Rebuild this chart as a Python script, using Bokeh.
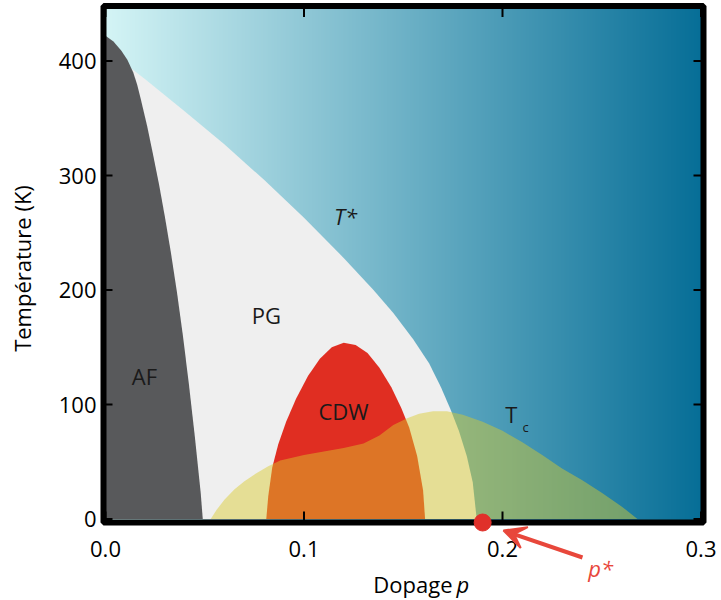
import numpy as np
from bokeh.plotting import figure
from bokeh.models import Label, Arrow, VeeHead, Range1d
from bokeh.core.properties import value
from bokeh.embed import file_html
from bokeh.resources import INLINE

# ---------------- data ----------------
# antiferromagnetic region boundary (doping, temperature K)
af_x = [0.0, 0.004, 0.008, 0.011, 0.014, 0.016, 0.018, 0.021, 0.024, 0.027, 0.030, 0.033, 0.036, 0.039, 0.042, 0.045, 0.048, 0.049, 0.0]
af_y = [422, 417, 409, 401, 390, 379, 365, 343, 318, 292, 263, 232, 198, 160, 118, 72, 22, 0, 0]
# pseudogap line T*
tstar_x = [0.0, 0.02, 0.04, 0.06, 0.08, 0.10, 0.12, 0.135, 0.145, 0.155, 0.163, 0.169, 0.174, 0.178, 0.182, 0.185, 0.187]
tstar_y = [411, 384, 356, 327, 296, 263, 228, 200, 180, 157, 136, 115, 95, 77, 55, 32, 0]
# charge density wave dome
cdw_x = [0.081, 0.082, 0.084, 0.087, 0.091, 0.096, 0.102, 0.108, 0.114, 0.120, 0.126, 0.132, 0.138, 0.144, 0.149, 0.153, 0.157, 0.160, 0.161]
cdw_y = [0, 20, 45, 65, 85, 105, 125, 140, 150, 154, 152, 145, 132, 115, 97, 80, 55, 25, 0]
# superconducting dome Tc
sc_x = [0.053, 0.056, 0.060, 0.065, 0.070, 0.076, 0.082, 0.088, 0.100, 0.110, 0.120, 0.130, 0.138, 0.145, 0.152, 0.158, 0.165, 0.172, 0.180, 0.190, 0.200, 0.210, 0.220, 0.230, 0.240, 0.250, 0.260, 0.268]
sc_y = [0, 8, 17, 26, 33, 40, 46, 51, 56, 59, 62, 66, 73, 82, 88, 92, 94, 94, 91, 85, 77, 67, 56, 44, 34, 23, 11, 0]
p_star = 0.19
x_ticks = [0.0, 0.1, 0.2, 0.3]
x_tick_labels = ["0.0", "0.1", "0.2", "0.3"]
y_ticks = [0, 100, 200, 300, 400]
y_tick_labels = ["0", "100", "200", "300", "400"]

# ---------------- layout / style ----------------
FONT = "Open Sans"
TXT = "#1a1a1a"
RED = "#e0302a"
ARROW_RED = "#e8473b"

W, H = 716, 598
SX, SY = 1985.0, 1.145      # pixels per unit of doping / per kelvin
X0PX, Y0PX = 105.0, 518.5   # canvas pixel of doping 0 / of 0 K


def dx(px):
    return (px - X0PX) / SX


def dy(py):
    return (Y0PX - py) / SY


p = figure(width=W, height=H, x_range=Range1d(dx(0), dx(W)), y_range=Range1d(dy(H), dy(0)),
           output_backend="svg", toolbar_location=None, min_border=0,
           x_axis_location=None, y_axis_location=None)
p.grid.visible = False
p.outline_line_color = None
p.background_fill_color = "white"
p.border_fill_color = "white"

# plot box
bl, br, bt, bb = dx(103), dx(703), dy(5.5), dy(522)

# background gradient (light cyan -> deep teal)
N = 600
c_left = np.array([213, 245, 246])
c_right = np.array([6, 110, 151])
t = np.linspace(0, 1, N)[:, None]
cols = (c_left + (c_right - c_left) * t).astype(np.uint8)
img = np.empty((1, N), dtype=np.uint32)
view = img.view(dtype=np.uint8).reshape((1, N, 4))
view[0, :, 0] = cols[:, 0]
view[0, :, 1] = cols[:, 1]
view[0, :, 2] = cols[:, 2]
view[0, :, 3] = 255
p.image_rgba(image=[img], x=bl, y=bb, dw=br - bl, dh=bt - bb)

# pseudogap region below T*
p.patch(tstar_x + [0.0], tstar_y + [0], fill_color="#efefef", line_color=None)
# AF region
p.patch(af_x, af_y, fill_color="#58595b", line_color=None)
# CDW dome
p.patch(cdw_x, cdw_y, fill_color="#e02e22", line_color=None)
# SC dome, translucent
p.patch(sc_x, sc_y, fill_color=(219, 202, 44), fill_alpha=0.46, line_color=None)

# inward ticks on all four sides
tl = 11.0
p.segment(x0=x_ticks, y0=[bb] * len(x_ticks), x1=x_ticks, y1=[bb + tl / SY] * len(x_ticks), line_color="black", line_width=2)
p.segment(x0=x_ticks, y0=[bt] * len(x_ticks), x1=x_ticks, y1=[bt - tl / SY] * len(x_ticks), line_color="black", line_width=2)
p.segment(x0=[bl] * len(y_ticks), y0=y_ticks, x1=[bl + 9 / SX] * len(y_ticks), y1=y_ticks, line_color="black", line_width=2)
p.segment(x0=[br] * len(y_ticks), y0=y_ticks, x1=[br - 10 / SX] * len(y_ticks), y1=y_ticks, line_color="black", line_width=2)

# thick black frame
p.quad(left=[bl], right=[br], bottom=[bb], top=[bt], fill_color=None, line_color="black", line_width=6)

# tick labels
p.text(x=x_ticks, y=[dy(548)] * len(x_ticks), text=x_tick_labels, text_font=value(FONT),
       text_font_size=value("22px"), text_color="black", text_align="center", text_baseline="middle")
p.text(x=[dx(96)] * len(y_ticks), y=y_ticks, text=y_tick_labels, text_font=value(FONT),
       text_font_size=value("22px"), text_color="black", text_align="right", text_baseline="middle")


def lab(x, y, text, size="21px", style="normal", color=TXT, align="center", angle=0.0):
    p.add_layout(Label(x=x, y=y, text=text, text_font=FONT, text_font_size=size,
                       text_font_style=style, text_color=color, text_align=align,
                       text_baseline="middle", angle=angle))


# axis titles
lab(dx(21), dy(268), "Température (K)", size="22px", color="black", angle=np.pi / 2)
lab(dx(452), dy(583), "Dopage", size="22px", color="black", align="right")
lab(dx(456), dy(583), "p", size="22px", style="italic", color="black", align="left")

# region labels
lab(0.0196, 125, "AF", size="22px")
lab(0.0811, 178, "PG", size="22px")
lab(0.1199, 94, "CDW", size="22px")
lab(0.1209, 265, "T*", size="22px", style="italic")
lab(0.2045, 92, "T", size="22px")
lab(0.2116, 80, "c", size="13px")

# p* marker and arrow
p.scatter([p_star], [bb], size=17, color=RED, line_color=RED)
p.add_layout(Arrow(end=VeeHead(size=22, fill_color=ARROW_RED, line_color=ARROW_RED, line_width=2),
                   x_start=p_star + 0.0503, y_start=dy(557), x_end=p_star + 0.0105, y_end=dy(530),
                   line_color=ARROW_RED, line_width=4))
lab(p_star + 0.0594, dy(567), "p*", size="22px", style="italic", color=ARROW_RED)

open("out.html", "w").write(file_html(p, INLINE))
